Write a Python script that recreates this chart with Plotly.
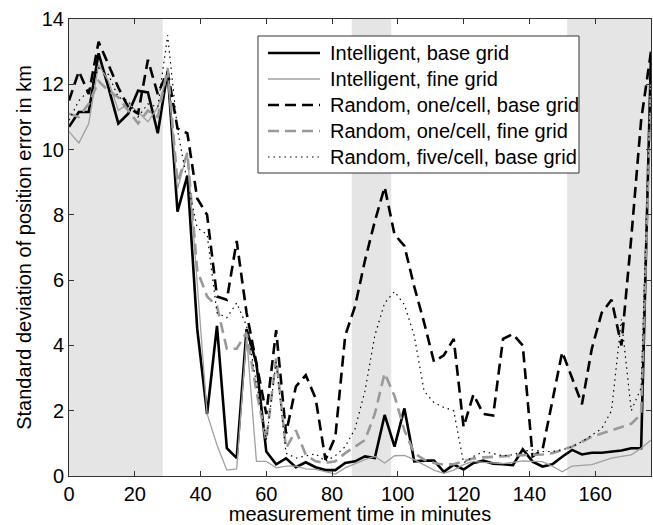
import plotly.graph_objects as go

# Measurement times (minutes), one sample every 3 minutes
time_min = list(range(0, 178, 3))

intelligent_base = [10.7, 11.15, 11.15, 12.95, 11.9, 10.8, 11.1, 11.8, 11.75, 10.5,
                    12.4, 8.1, 9.2, 4.5, 1.9, 4.6, 0.85, 0.55, 4.5, 3.45,
                    0.75, 0.36, 0.54, 0.27, 0.42, 0.27, 0.18, 0.18, 0.4, 0.45,
                    0.6, 0.55, 1.87, 0.9, 2.07, 0.45, 0.47, 0.47, 0.13, 0.35,
                    0.2, 0.4, 0.47, 0.38, 0.36, 0.33, 0.82, 0.44, 0.29, 0.36,
                    0.59, 0.8, 0.66, 0.71, 0.71, 0.75, 0.78, 0.85, 0.85, 12.95]

intelligent_fine = [10.55, 10.2, 10.8, 12.6, 12.1, 11.2, 11.4, 11.15, 10.85, 11.3,
                    12.3, 8.8, 9.9, 6.0, 1.9, 0.95, 0.18, 0.22, 4.3, 0.45,
                    0.45, 0.25, 0.3, 0.3, 0.22, 0.2, 0.12, 0.06, 0.25, 0.38,
                    0.5, 0.6, 0.4, 0.62, 0.63, 0.5, 0.33, 0.18, 0.08, 0.18,
                    0.35, 0.45, 0.42, 0.4, 0.38, 0.42, 0.46, 0.45, 0.44, 0.3,
                    0.13, 0.3, 0.33, 0.35, 0.45, 0.55, 0.6, 0.65, 0.85, 1.1]

random_one_base = [11.5, 12.4, 11.7, 13.3, 12.6, 11.9, 11.3, 11.1, 12.75, 11.7,
                   12.4, 10.65, 10.5, 8.5, 8.0, 5.5, 5.4, 7.2, 5.0, 3.5,
                   1.9, 4.47, 1.3, 2.74, 3.09, 2.38, 0.5, 1.2, 4.3, 5.2,
                   6.6, 7.8, 8.85, 7.4, 7.05, 5.8, 4.7, 3.5, 3.7, 4.2,
                   1.5, 2.5, 1.9, 1.85, 4.2, 4.35, 4.0, 0.6, 0.8, 2.3,
                   3.8, 3.0, 2.2, 3.9, 5.0, 5.4, 4.0, 7.3, 10.9, 13.0]

random_one_fine = [11.1, 11.0, 11.4, 12.1, 11.8, 11.6, 11.2, 10.8, 11.2, 11.0,
                   12.5, 9.0, 9.9, 6.3, 5.5, 5.2, 3.9, 3.9, 4.4, 2.6,
                   1.1, 3.6, 0.85, 1.4, 0.65, 0.45, 0.4, 0.45, 0.7, 0.9,
                   1.1, 1.9, 3.15, 2.45, 1.4, 0.7, 0.5, 0.4, 0.35, 0.36,
                   0.45, 0.54, 0.57, 0.58, 0.6, 0.62, 0.64, 0.65, 0.66, 0.7,
                   0.8, 0.9, 1.05, 1.2, 1.3, 1.4, 1.5, 1.6, 1.9, 12.0]

random_five_base = [10.9, 11.5, 11.8, 12.5, 12.3, 11.6, 11.5, 11.0, 11.4, 11.3,
                    13.5, 10.6, 9.0, 7.6, 7.4, 5.0, 4.85, 5.3, 4.6, 2.9,
                    1.1, 3.5, 0.7, 0.55, 0.62, 0.68, 0.45, 0.62, 0.9, 1.45,
                    2.6, 4.3, 5.3, 5.65, 5.25, 4.3, 2.6, 2.25, 2.1, 2.0,
                    0.4, 0.6, 0.75, 0.68, 0.62, 0.65, 0.75, 0.8, 0.75, 0.75,
                    0.8, 0.9, 1.05, 1.25, 1.45, 2.0, 4.8, 2.0, 2.7, 12.5]

series_names = ["Intelligent, base grid", "Intelligent, fine grid",
                "Random, one/cell, base grid", "Random, one/cell, fine grid",
                "Random, five/cell, base grid"]

# Shaded time windows (start, end) in minutes
shaded_windows = [(0, 28.5), (86, 98), (151.5, 177)]

x_ticks = [0, 20, 40, 60, 80, 100, 120, 140, 160]
y_ticks = [0, 2, 4, 6, 8, 10, 12, 14]

FONT = "Liberation Sans, Arial, Helvetica, sans-serif"
FS = 20

styles = [
    dict(color="black", width=2.6, dash="solid"),
    dict(color="#a0a0a0", width=1.3, dash="solid"),
    dict(color="black", width=2.6, dash="11px,6px"),
    dict(color="#999999", width=2.6, dash="11px,6px"),
    dict(color="black", width=1.2, dash="1.5px,4px"),
]
values_list = [intelligent_base, intelligent_fine, random_one_base,
               random_one_fine, random_five_base]

fig = go.Figure()

for name, values, style in zip(series_names, values_list, styles):
    fig.add_trace(go.Scatter(x=time_min, y=values, mode="lines", name=name,
                             line=style, showlegend=False))

for x0, x1 in shaded_windows:
    fig.add_shape(type="rect", xref="x", yref="paper", x0=x0, x1=x1, y0=0, y1=1,
                  fillcolor="#e5e5e5", line=dict(width=0), layer="below")

# Boxed legend in the upper middle of the axes
box_x0, box_x1, box_y0, box_y1 = 0.3247, 0.8763, 0.6630, 0.9628
fig.add_shape(type="rect", xref="paper", yref="paper",
              x0=box_x0, x1=box_x1, y0=box_y0, y1=box_y1,
              fillcolor="white", line=dict(color="#333333", width=1), layer="above")
row_y = [0.9256, 0.8687, 0.8118, 0.7549, 0.6980]
for name, style, ry in zip(series_names, styles, row_y):
    fig.add_shape(type="line", xref="paper", yref="paper",
                  x0=0.3419, x1=0.4313, y0=ry, y1=ry, line=style, layer="above")
    fig.add_annotation(xref="paper", yref="paper", x=0.4450, y=ry, text=name,
                       xanchor="left", yanchor="middle", showarrow=False,
                       font=dict(family=FONT, size=FS, color="black"))

axis_common = dict(
    showgrid=False, zeroline=False, showline=True, linecolor="#333333", linewidth=1,
    mirror="ticks", ticks="inside", ticklen=5, tickcolor="#333333",
    tickfont=dict(family=FONT, size=FS, color="black"),
)

fig.update_xaxes(range=[0, 177], tickvals=x_ticks,
                 title=dict(text="measurement time in minutes", standoff=2,
                            font=dict(family=FONT, size=FS, color="black")),
                 **axis_common)
fig.update_yaxes(range=[0, 14], tickvals=y_ticks,
                 title=dict(text="Standard deviation of position error in km", standoff=4,
                            font=dict(family=FONT, size=FS, color="black")),
                 **axis_common)

fig.update_layout(
    width=653, height=525,
    margin=dict(l=69, r=2, t=19, b=49),
    paper_bgcolor="white", plot_bgcolor="white",
    font=dict(family=FONT, size=FS, color="black"),
    showlegend=False,
)

fig.write_html("out.html")
